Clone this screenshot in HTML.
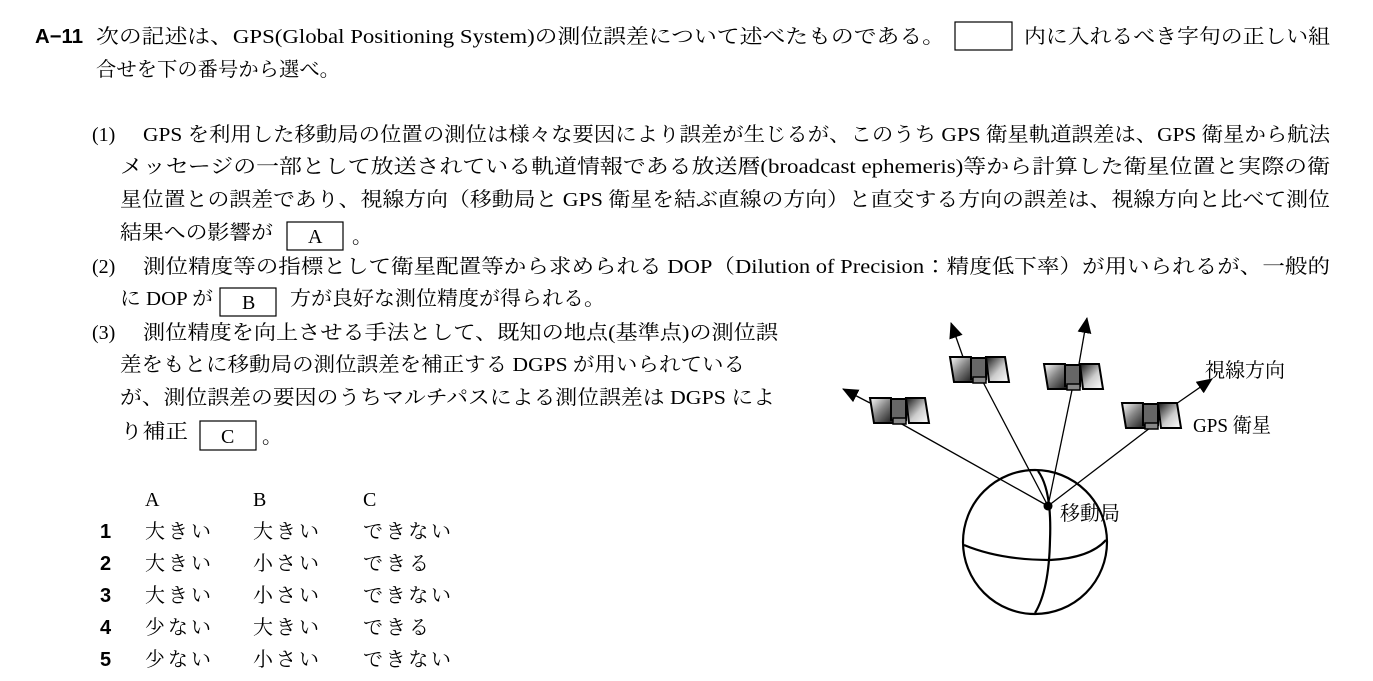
<!DOCTYPE html>
<html><head><meta charset="utf-8"><style>
html,body{margin:0;padding:0;background:#fff;}
svg{display:block;}
text{font-family:"Liberation Serif","Noto Serif CJK JP",serif;font-size:20px;fill:#000;}
.b{font-family:"Liberation Sans","Noto Sans CJK JP",sans-serif;font-weight:bold;}
</style></head><body>
<svg width="1373" height="681" viewBox="0 0 1373 681" xmlns="http://www.w3.org/2000/svg">
<defs>
<linearGradient id="gl" x1="0" y1="0" x2="1" y2="1"><stop offset="0" stop-color="#fff"/><stop offset="0.45" stop-color="#888"/><stop offset="1" stop-color="#111"/></linearGradient>
<linearGradient id="gr" x1="0" y1="0" x2="1" y2="1"><stop offset="0" stop-color="#111"/><stop offset="0.55" stop-color="#ccc"/><stop offset="1" stop-color="#fff"/></linearGradient>
<g id="sat">
<polygon points="0,0 21,0 24,25 4,25" fill="url(#gl)" stroke="#000" stroke-width="2"/>
<polygon points="36,0 55,0 59,25 39,25" fill="url(#gr)" stroke="#000" stroke-width="2"/>
<rect x="21" y="1" width="15" height="21" fill="#666" stroke="#000" stroke-width="2"/>
<rect x="23" y="20" width="13" height="6" fill="#888" stroke="#000" stroke-width="1.5"/>
</g>
<marker id="ar" markerWidth="16" markerHeight="14" refX="15" refY="7" orient="auto" markerUnits="userSpaceOnUse"><path d="M0,0 L16,7 L0,14 z" fill="#000"/></marker>
</defs>

<text x="35" y="43" class="b" textLength="48" lengthAdjust="spacingAndGlyphs">A−11</text>
<text x="96" y="43" textLength="849" lengthAdjust="spacingAndGlyphs">次の記述は、GPS(Global Positioning System)の測位誤差について述べたものである。</text>
<rect x="955" y="22" width="57" height="28" fill="none" stroke="#000" stroke-width="1.2"/>
<text x="1024" y="43" textLength="306" lengthAdjust="spacingAndGlyphs">内に入れるべき字句の正しい組</text>
<text x="96" y="76" textLength="244" lengthAdjust="spacingAndGlyphs">合せを下の番号から選べ。</text>

<text x="92" y="141">(1)</text>
<text x="143" y="141" textLength="1187" lengthAdjust="spacingAndGlyphs">GPS を利用した移動局の位置の測位は様々な要因により誤差が生じるが、このうち GPS 衛星軌道誤差は、GPS 衛星から航法</text>
<text x="120" y="173" textLength="1210" lengthAdjust="spacingAndGlyphs">メッセージの一部として放送されている軌道情報である放送暦(broadcast  ephemeris)等から計算した衛星位置と実際の衛</text>
<text x="120" y="206" textLength="1210" lengthAdjust="spacingAndGlyphs">星位置との誤差であり、視線方向（移動局と GPS 衛星を結ぶ直線の方向）と直交する方向の誤差は、視線方向と比べて測位</text>
<text x="120" y="239" textLength="153" lengthAdjust="spacingAndGlyphs">結果への影響が</text>
<rect x="287" y="222" width="56" height="28" fill="none" stroke="#000" stroke-width="1.2"/>
<text x="308" y="243">A</text>
<text x="352" y="243">。</text>

<text x="92" y="273">(2)</text>
<text x="143" y="273" textLength="1187" lengthAdjust="spacingAndGlyphs">測位精度等の指標として衛星配置等から求められる DOP（Dilution of Precision：精度低下率）が用いられるが、一般的</text>
<text x="120" y="305" textLength="93" lengthAdjust="spacingAndGlyphs">に DOP が</text>
<rect x="220" y="288" width="56" height="28" fill="none" stroke="#000" stroke-width="1.2"/>
<text x="242" y="309">B</text>
<text x="290" y="305" textLength="315" lengthAdjust="spacingAndGlyphs">方が良好な測位精度が得られる。</text>

<text x="92" y="339">(3)</text>
<text x="143" y="339" textLength="635" lengthAdjust="spacingAndGlyphs">測位精度を向上させる手法として、既知の地点(基準点)の測位誤</text>
<text x="120" y="371" textLength="625" lengthAdjust="spacingAndGlyphs">差をもとに移動局の測位誤差を補正する DGPS が用いられている</text>
<text x="120" y="404" textLength="655" lengthAdjust="spacingAndGlyphs">が、測位誤差の要因のうちマルチパスによる測位誤差は DGPS によ</text>
<text x="120" y="438" textLength="68" lengthAdjust="spacingAndGlyphs">り補正</text>
<rect x="200" y="421" width="56" height="29" fill="none" stroke="#000" stroke-width="1.2"/>
<text x="221" y="443">C</text>
<text x="262" y="443">。</text>

<text x="145" y="506">A</text><text x="253" y="506">B</text><text x="363" y="506">C</text>
<g>
<text x="100" y="538" class="b">1</text><text x="145" y="538" textLength="66">大きい</text><text x="253" y="538" textLength="66">大きい</text><text x="363" y="538" textLength="88">できない</text>
<text x="100" y="570" class="b">2</text><text x="145" y="570" textLength="66">大きい</text><text x="253" y="570" textLength="66">小さい</text><text x="363" y="570" textLength="66">できる</text>
<text x="100" y="602" class="b">3</text><text x="145" y="602" textLength="66">大きい</text><text x="253" y="602" textLength="66">小さい</text><text x="363" y="602" textLength="88">できない</text>
<text x="100" y="634" class="b">4</text><text x="145" y="634" textLength="66">少ない</text><text x="253" y="634" textLength="66">大きい</text><text x="363" y="634" textLength="66">できる</text>
<text x="100" y="666" class="b">5</text><text x="145" y="666" textLength="66">少ない</text><text x="253" y="666" textLength="66">小さい</text><text x="363" y="666" textLength="88">できない</text>
</g>

<!-- diagram -->
<g stroke="#000" fill="none">
<circle cx="1035" cy="542" r="72" stroke-width="2.2"/>
<path d="M1038,471 Q1052,490 1050,540 Q1049,590 1035,613" stroke-width="2.2"/>
<path d="M964,545 Q1000,560 1050,560 Q1090,558 1106,540" stroke-width="2.2"/>
<line x1="1048" y1="506" x2="900" y2="423" stroke-width="1.3"/>
<line x1="1048" y1="506" x2="983" y2="382" stroke-width="1.3"/>
<line x1="1048" y1="506" x2="1072" y2="390" stroke-width="1.3"/>
<line x1="1048" y1="506" x2="1150" y2="428" stroke-width="1.3"/>
<line x1="870" y1="403" x2="843" y2="389" stroke-width="1.3" marker-end="url(#ar)"/>
<line x1="963" y1="357" x2="951" y2="323" stroke-width="1.3" marker-end="url(#ar)"/>
<line x1="1079" y1="364" x2="1087" y2="318" stroke-width="1.3" marker-end="url(#ar)"/>
<line x1="1176" y1="404" x2="1212" y2="379" stroke-width="1.3" marker-end="url(#ar)"/>
</g>
<circle cx="1048" cy="506" r="4.5" fill="#000"/>
<use href="#sat" x="870" y="398"/>
<use href="#sat" x="950" y="357"/>
<use href="#sat" x="1044" y="364"/>
<use href="#sat" x="1122" y="403"/>
<text x="1205" y="377">視線方向</text>
<text x="1193" y="432" textLength="78" lengthAdjust="spacingAndGlyphs">GPS 衛星</text>
<text x="1060" y="520">移動局</text>
</svg>
</body></html>
